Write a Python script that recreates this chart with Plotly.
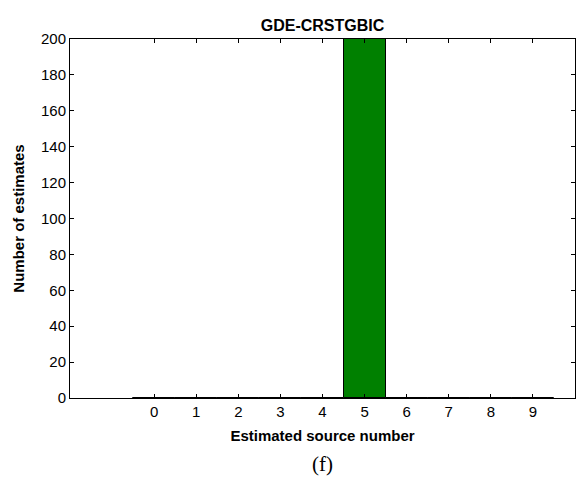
import plotly.graph_objects as go

categories = [0, 1, 2, 3, 4, 5, 6, 7, 8, 9]
counts = [0, 0, 0, 0, 0, 200, 0, 0, 0, 0]
y_ticks = [0, 20, 40, 60, 80, 100, 120, 140, 160, 180, 200]

fig = go.Figure()
fig.add_trace(go.Bar(
    x=categories, y=counts, width=1,
    marker=dict(color="#008000", line=dict(color="black", width=1)),
    showlegend=False,
))

font_family = "Liberation Sans, Arial, sans-serif"
fig.update_layout(
    width=588, height=477,
    margin=dict(l=70, r=13, t=39, b=79, autoexpand=False),
    paper_bgcolor="white", plot_bgcolor="white",
    bargap=0,
    font=dict(family=font_family, size=15, color="black"),
    title=dict(text="<b>GDE-CRSTGBIC</b>", x=0.5, xanchor="center",
               xref="paper", y=1 - 25 / 477, yref="container", yanchor="middle",
               automargin=False,
               font=dict(size=16, family=font_family)),
    xaxis=dict(range=[-2, 10], tickvals=categories, ticktext=[str(c) for c in categories],
               ticks="inside", ticklen=4, tickcolor="black", showline=True, linecolor="black",
               linewidth=1, mirror="ticks", showgrid=False, zeroline=False, automargin=False,
               tickfont=dict(size=15),
               title=dict(text="<b>Estimated source number</b>", standoff=11,
                          font=dict(size=15, family=font_family))),
    yaxis=dict(range=[0, 200], tickvals=y_ticks,
               ticks="inside", ticklen=4, tickcolor="black", showline=True, linecolor="black",
               linewidth=1, mirror="ticks", showgrid=False, zeroline=False, automargin=False,
               tickfont=dict(size=15),
               title=dict(text="<b>Number of estimates</b>", standoff=12,
                          font=dict(size=15, family=font_family))),
    annotations=[dict(text="(f)", x=0.5, xref="paper", y=-(464 - 398) / 359, yref="paper",
                      yanchor="middle", showarrow=False,
                      font=dict(family="Liberation Serif, Times New Roman, serif", size=21))],
)

fig.write_html("out.html", config={"displayModeBar": False},
               post_script="document.body.style.margin='0px';")
